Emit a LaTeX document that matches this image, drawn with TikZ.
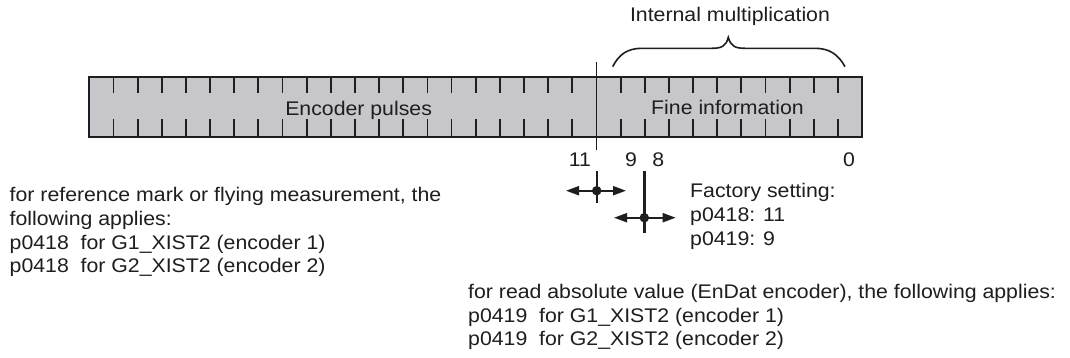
\documentclass[tikz,border=0pt]{standalone}
\usepackage{fontspec}
\setmainfont[FakeStretch=1.08]{Liberation Sans}
\usetikzlibrary{arrows.meta}
\definecolor{barfill}{RGB}{199,198,203}
\definecolor{ink}{RGB}{30,30,30}
\begin{document}
\begin{tikzpicture}[x=1pt,y=-1pt,
  txt/.style={inner sep=0pt,font=\fontsize{19.7}{23.5}\selectfont,text=ink},
  lbl/.style={txt,anchor=base west},
  num/.style={txt,anchor=base},
  tickline/.style={draw=ink,line width=1.8pt},
  shiftarrow/.style={draw=ink,line width=2pt,{Triangle[length=13pt,width=9pt]}-{Triangle[length=13pt,width=9pt]}},
  pinline/.style={draw=ink,line width=2.4pt},
  dotmark/.style={circle,fill=ink,inner sep=0pt,minimum size=9.5pt}]

\fill[white] (0,0) rectangle (1070,357);
\useasboundingbox (0,0) rectangle (1070,357);

% register bar
\draw[fill=barfill,draw=ink,line width=2pt] (89.3,76.5) rectangle (861.7,136.5);
\foreach \k in {1,...,31}{%
  \ifnum\k=21\relax\else
    \draw[tickline] ({89.3+24.15*\k},76.5) -- ++(0,16.5);
    \draw[tickline] ({89.3+24.15*\k},136.5) -- ++(0,-18);
  \fi}
\draw[draw=ink,line width=1.2pt] (596.4,62) -- (596.4,150);

\node[txt,anchor=base] (enc) at (358.6,115) {Encoder pulses};
\node[txt,anchor=base] (fine) at (727.5,114) {Fine information};
\node[txt,anchor=base] (mult) at (730,21.5) {Internal multiplication};

% brace
\draw[draw=ink,line width=1.6pt] (612.7,66.7) .. controls (619,54) and (628,48.3) .. (642,48.3)
  -- (712,48.3) .. controls (722,48.3) and (726,46) .. (728.3,37.3)
  .. controls (730.6,46) and (735,48.3) .. (745,48.3)
  -- (815,48.3) .. controls (829,48.3) and (838,54) .. (845,66.7);

% bit numbers
\node[num] (b11) at (580,166.5) {11};
\node[num] (b9) at (631,166.5) {9};
\node[num] (b8) at (658.3,166.5) {8};
\node[num] (b0) at (849,166.5) {0};

% shift markers
\coordinate (s1l) at (566,190.7);
\coordinate (s1r) at (626,190.7);
\coordinate (s1t) at (596.7,171);
\coordinate (s1b) at (596.7,203.3);
\draw[shiftarrow] (s1l) -- (s1r);
\draw[pinline] (s1t) -- (s1b);
\node[dotmark] (d1) at (596.7,190.7) {};

\coordinate (s2l) at (614,217.7);
\coordinate (s2r) at (675.7,217.7);
\coordinate (s2t) at (644.3,171);
\coordinate (s2b) at (644.3,233.3);
\draw[shiftarrow] (s2l) -- (s2r);
\draw[pinline] (s2t) -- (s2b);
\node[dotmark] (d2) at (644.3,217.7) {};

% factory setting
\node[lbl] (f1) at (690,197) {Factory setting:};
\node[lbl] (f2) at (690,221) {p0418: 11};
\node[lbl] (f3) at (690,245) {p0419: 9};

% left text
\node[lbl] (l1) at (9.5,201.7) {for reference mark or flying measurement, the};
\node[lbl] (l2) at (9.5,225.3) {following applies:};
\node[lbl] (l3) at (9.5,249) {p0418\ \ for G1\_XIST2 (encoder 1)};
\node[lbl] (l4) at (9.5,272.5) {p0418\ \ for G2\_XIST2 (encoder 2)};

% bottom text
\node[lbl] (r1) at (468,298.5) {for read absolute value (EnDat encoder), the following applies:};
\node[lbl] (r2) at (468,322) {p0419\ \ for G1\_XIST2 (encoder 1)};
\node[lbl] (r3) at (468,345.5) {p0419\ \ for G2\_XIST2 (encoder 2)};
\end{tikzpicture}
\end{document}
